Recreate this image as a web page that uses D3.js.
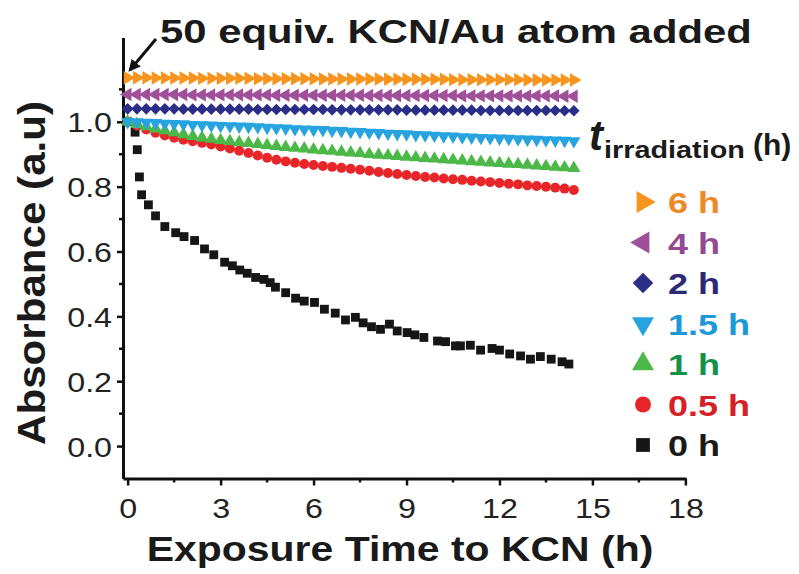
<!DOCTYPE html>
<html>
<head>
<meta charset="utf-8">
<script src="https://cdn.jsdelivr.net/npm/d3@7"></script>
<style>
  body { margin: 0; background: #fff; }
  text { font-family: "Liberation Sans", Arial, sans-serif; }
</style>
</head>
<body>
<div id="chart"></div>
<script>
// exposure time (h) shared by the irradiated samples
const times = [0, 0.3, 0.6, 0.9, 1.2, 1.5, 1.8, 2.1, 2.4, 2.7, 3.0, 3.3, 3.6, 3.9, 4.2, 4.5, 4.8,
  5.1, 5.4, 5.7, 6.0, 6.3, 6.6, 6.9, 7.2, 7.5, 7.8, 8.1, 8.4, 8.7, 9.0, 9.3, 9.6, 9.9, 10.2,
  10.5, 10.8, 11.1, 11.4, 11.7, 12.0, 12.3, 12.6, 12.9, 13.2, 13.5, 13.8, 14.1, 14.4];

const abs6h = [1.136, 1.136, 1.136, 1.135, 1.135, 1.135, 1.135, 1.135, 1.134, 1.134, 1.134, 1.134,
  1.134, 1.134, 1.133, 1.133, 1.133, 1.133, 1.133, 1.133, 1.133, 1.132, 1.132, 1.132, 1.132,
  1.132, 1.132, 1.132, 1.131, 1.131, 1.131, 1.131, 1.131, 1.131, 1.131, 1.130, 1.130, 1.130,
  1.130, 1.130, 1.130, 1.130, 1.130, 1.129, 1.129, 1.129, 1.129, 1.129, 1.129];
const abs4h = [1.084, 1.084, 1.084, 1.084, 1.084, 1.084, 1.084, 1.083, 1.083, 1.083, 1.083, 1.083,
  1.083, 1.083, 1.083, 1.083, 1.082, 1.082, 1.082, 1.082, 1.082, 1.082, 1.082, 1.082, 1.082,
  1.082, 1.081, 1.081, 1.081, 1.081, 1.081, 1.081, 1.081, 1.081, 1.081, 1.081, 1.080, 1.080,
  1.080, 1.080, 1.080, 1.080, 1.080, 1.080, 1.080, 1.080, 1.080, 1.079, 1.079];
const abs2h = [1.040, 1.040, 1.040, 1.040, 1.040, 1.040, 1.039, 1.039, 1.039, 1.039, 1.039, 1.039,
  1.039, 1.039, 1.038, 1.038, 1.038, 1.038, 1.038, 1.038, 1.038, 1.038, 1.037, 1.037, 1.037,
  1.037, 1.037, 1.037, 1.037, 1.037, 1.036, 1.036, 1.036, 1.036, 1.036, 1.036, 1.036, 1.036,
  1.035, 1.035, 1.035, 1.035, 1.035, 1.035, 1.035, 1.035, 1.035, 1.034, 1.034];
const abs15h = [1.000, 0.999, 0.998, 0.997, 0.995, 0.994, 0.993, 0.991, 0.990, 0.989, 0.988, 0.987,
  0.986, 0.985, 0.984, 0.982, 0.981, 0.980, 0.978, 0.977, 0.976, 0.975, 0.973, 0.972, 0.970,
  0.969, 0.967, 0.966, 0.964, 0.963, 0.962, 0.960, 0.959, 0.958, 0.956, 0.955, 0.953, 0.952,
  0.951, 0.950, 0.949, 0.948, 0.947, 0.946, 0.945, 0.944, 0.943, 0.942, 0.941];
const abs1h = [1.000, 0.993, 0.986, 0.979, 0.973, 0.967, 0.961, 0.956, 0.951, 0.947, 0.943, 0.940,
  0.937, 0.934, 0.931, 0.928, 0.925, 0.922, 0.919, 0.917, 0.914, 0.912, 0.910, 0.907, 0.905,
  0.903, 0.900, 0.898, 0.896, 0.894, 0.892, 0.890, 0.888, 0.886, 0.884, 0.882, 0.880, 0.878,
  0.876, 0.874, 0.872, 0.870, 0.869, 0.867, 0.865, 0.863, 0.861, 0.859, 0.857];
const abs05h = [1.000, 0.988, 0.976, 0.966, 0.958, 0.951, 0.945, 0.940, 0.935, 0.930, 0.924, 0.918,
  0.911, 0.904, 0.896, 0.889, 0.883, 0.878, 0.874, 0.870, 0.867, 0.864, 0.861, 0.858, 0.855,
  0.852, 0.849, 0.845, 0.842, 0.839, 0.836, 0.833, 0.830, 0.828, 0.825, 0.823, 0.821, 0.818,
  0.816, 0.814, 0.811, 0.809, 0.807, 0.804, 0.802, 0.800, 0.797, 0.794, 0.790];

// non irradiated sample, sampled on its own times
const times0h = [0, 0.24, 0.31, 0.38, 0.45, 0.67, 0.9, 1.2, 1.55, 1.82, 2.16, 2.48, 2.78, 3.13, 3.38,
  3.62, 3.86, 4.13, 4.4, 4.6, 4.77, 5.1, 5.42, 5.7, 6.03, 6.35, 6.7, 7.03, 7.35, 7.6, 7.87, 8.16,
  8.45, 8.7, 9.02, 9.27, 9.56, 10.0, 10.26, 10.58, 10.74, 11.06, 11.39, 11.76, 12.0, 12.33,
  12.68, 13.0, 13.32, 13.67, 14.02, 14.24];
const abs0h = [1.0, 0.968, 0.914, 0.83, 0.775, 0.744, 0.71, 0.677, 0.658, 0.646, 0.634, 0.608, 0.59,
  0.567, 0.556, 0.543, 0.533, 0.52, 0.514, 0.504, 0.49, 0.473, 0.456, 0.447, 0.443, 0.422, 0.41,
  0.389, 0.397, 0.38, 0.368, 0.36, 0.376, 0.355, 0.35, 0.343, 0.335, 0.324, 0.322, 0.309, 0.309,
  0.311, 0.296, 0.301, 0.296, 0.284, 0.278, 0.268, 0.276, 0.268, 0.26, 0.253];

const legendLabels = ["6 h", "4 h", "2 h", "1.5 h", "1 h", "0.5 h", "0 h"];
const xTicks = [0, 3, 6, 9, 12, 15, 18];
const yTicks = [0.0, 0.2, 0.4, 0.6, 0.8, 1.0];

// series, in legend order (top to bottom)
const series = [
  { label: "6 h", t: times, v: abs6h, shape: d3.symbolTriangle, rot: 90, size: 78, color: "#f7941d", text: "#ee8a25" },
  { label: "4 h", t: times, v: abs4h, shape: d3.symbolTriangle, rot: -90, size: 78, color: "#a0509a", text: "#934a93" },
  { label: "2 h", t: times, v: abs2h, shape: d3.symbolSquare, rot: 45, size: 68, color: "#2b2e86", text: "#2c2a76" },
  { label: "1.5 h", t: times, v: abs15h, shape: d3.symbolTriangle, rot: 180, size: 75, color: "#27a4df", text: "#1c9ad6" },
  { label: "1 h", t: times, v: abs1h, shape: d3.symbolTriangle, rot: 0, size: 75, color: "#4cb848", text: "#15924a" },
  { label: "0.5 h", t: times, v: abs05h, shape: d3.symbolCircle, rot: 0, size: 78, color: "#e8262a", text: "#d62027" },
  { label: "0 h", t: times0h, v: abs0h, shape: d3.symbolSquare, rot: 0, size: 78, color: "#161616", text: "#1a1a1a" },
];

const width = 799, height = 574;
const svg = d3.select("#chart").append("svg")
  .attr("width", width).attr("height", height)
  .style("background", "#fff");

const x = d3.scaleLinear().domain([-0.15, 18.02]).range([123, 686]);
const y = d3.scaleLinear().domain([-0.1, 1.26]).range([478.5, 37.5]);

// the original text is a bit wider than the font, stretch it
const stretch = (sel, k) => sel.each(function () {
  const len = this.getComputedTextLength();
  d3.select(this).attr("textLength", len * k).attr("lengthAdjust", "spacingAndGlyphs");
});

// axes
const xAxis = svg.append("g")
  .attr("transform", `translate(0,${y.range()[0]})`)
  .call(d3.axisBottom(x).tickValues(xTicks).tickSize(7).tickSizeOuter(0).tickPadding(6).tickFormat(d3.format("d")));
const yAxis = svg.append("g")
  .attr("transform", `translate(${x.range()[0]},0)`)
  .call(d3.axisLeft(y).tickValues(yTicks).tickSize(6).tickSizeOuter(0).tickPadding(5).tickFormat(d3.format(".1f")));

[xAxis, yAxis].forEach((g) => {
  g.select(".domain").attr("stroke", "#111").attr("stroke-width", 3);
  g.selectAll(".tick line").attr("stroke", "#111").attr("stroke-width", 2.5);
  g.selectAll(".tick text")
    .attr("fill", "#222")
    .style("font-size", "28px");
});
xAxis.selectAll(".tick text").attr("dy", "0.95em");
yAxis.selectAll(".tick text").attr("dy", "0.36em");
xAxis.selectAll(".tick text").call(stretch, 1.15);
yAxis.selectAll(".tick text").call(stretch, 1.15);

// minor ticks
const xMinor = d3.range(1.5, 18, 3);
const yMinor = [0.1, 0.3, 0.5, 0.7, 0.9, 1.1];
svg.append("g").selectAll("line").data(xMinor).join("line")
  .attr("x1", (d) => x(d)).attr("x2", (d) => x(d))
  .attr("y1", y.range()[0]).attr("y2", y.range()[0] + 4)
  .attr("stroke", "#111").attr("stroke-width", 2.5);
svg.append("g").selectAll("line").data(yMinor).join("line")
  .attr("x1", x.range()[0]).attr("x2", x.range()[0] - 4)
  .attr("y1", (d) => y(d)).attr("y2", (d) => y(d))
  .attr("stroke", "#111").attr("stroke-width", 2.5);

// axis titles
svg.append("text")
  .attr("x", 400).attr("y", 561)
  .attr("text-anchor", "middle")
  .attr("font-weight", "bold")
  .style("font-size", "35px")
  .attr("fill", "#1a1a1a")
  .text("Exposure Time to KCN (h)")
  .call(stretch, 1.17);

svg.append("text")
  .attr("transform", "translate(45,273) rotate(-90)")
  .attr("text-anchor", "middle")
  .attr("font-weight", "bold")
  .style("font-size", "39px")
  .attr("fill", "#1a1a1a")
  .text("Absorbance (a.u)")
  .call(stretch, 1.08);

// data markers, drawn from the bottom series up
const plot = svg.append("g");
series.slice().reverse().forEach((s) => {
  const sym = d3.symbol().type(s.shape).size(s.size);
  plot.append("g").selectAll("path")
    .data(s.t.map((t, i) => ({ t, v: s.v[i] })))
    .join("path")
    .attr("d", sym)
    .attr("transform", (d) => `translate(${x(d.t)},${y(d.v)}) rotate(${s.rot})`)
    .attr("fill", s.color);
});

// annotation with arrow
svg.append("defs").append("marker")
  .attr("id", "arrow")
  .attr("viewBox", "0 0 10 10")
  .attr("refX", 8).attr("refY", 5)
  .attr("markerWidth", 4).attr("markerHeight", 4)
  .attr("orient", "auto")
  .append("path").attr("d", "M0,0 L10,5 L0,10 z").attr("fill", "#111");
svg.append("line")
  .attr("x1", 156).attr("y1", 39)
  .attr("x2", 130).attr("y2", 70)
  .attr("stroke", "#111").attr("stroke-width", 3)
  .attr("marker-end", "url(#arrow)");
svg.append("text")
  .attr("x", 160).attr("y", 43)
  .attr("font-weight", "bold")
  .style("font-size", "34px")
  .attr("fill", "#1a1a1a")
  .text("50 equiv. KCN/Au atom added")
  .call(stretch, 1.23);

// legend
const legend = svg.append("g");
const lt = legend.append("text").attr("y", 150).attr("font-weight", "bold").attr("fill", "#1a1a1a");
lt.append("tspan").attr("x", 589).style("font-size", "42px").style("font-style", "italic").text("t");
lt.append("tspan").attr("x", 604).attr("y", 158).style("font-size", "24px").text("irradiation");
legend.append("text")
  .attr("x", 753).attr("y", 155)
  .attr("font-weight", "bold").style("font-size", "30px").attr("fill", "#1a1a1a")
  .text("(h)");
legend.selectAll("tspan").filter((d, i) => i === 1).each(function () {
  const len = this.getComputedTextLength();
  d3.select(this).attr("textLength", len * 1.2).attr("lengthAdjust", "spacingAndGlyphs");
});

const rowY = d3.scalePoint().domain(legendLabels).range([202, 445]);
const rows = legend.selectAll("g.row").data(series).join("g")
  .attr("class", "row")
  .attr("transform", (d) => `translate(643,${rowY(d.label)})`);
rows.append("path")
  .attr("d", (d) => d3.symbol().type(d.shape).size(d.shape === d3.symbolCircle ? 200 : d.shape === d3.symbolSquare && d.rot === 0 ? 190 : 210)())
  .attr("transform", (d) => `rotate(${d.rot})`)
  .attr("fill", (d) => d.color);
rows.append("text")
  .attr("x", 25).attr("y", 11)
  .attr("font-weight", "bold")
  .style("font-size", "30px")
  .attr("fill", (d) => d.text)
  .text((d) => d.label)
  .call(stretch, 1.2);
</script>
</body>
</html>
